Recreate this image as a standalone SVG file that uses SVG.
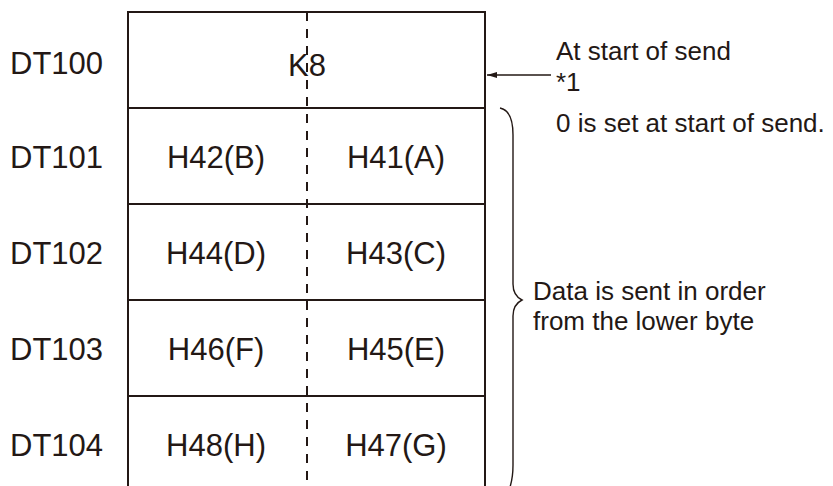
<svg xmlns="http://www.w3.org/2000/svg" width="833" height="486" viewBox="0 0 833 486">
<defs>
<style>
.t{font-family:"Liberation Sans",Arial,sans-serif;fill:#231815}
.lbl{font-size:31px}
.cell{font-size:31px;text-anchor:middle}
.note{font-size:26px}
.box{fill:#fff;stroke:#231815;stroke-width:2}
.dash{stroke:#231815;stroke-width:2;stroke-dasharray:9 8;fill:none}
.conn{stroke:#231815;stroke-width:1.4;fill:none}
</style>
<marker id="ah" viewBox="0 0 10 6" refX="10" refY="3" markerWidth="10" markerHeight="6" markerUnits="userSpaceOnUse" orient="auto">
<path d="M0,0 L10,3 L0,6 Z" fill="#231815"/>
</marker>
</defs>
<rect width="833" height="486" fill="#fff"/>
<g id="dt100">
<rect class="box" x="128" y="12" width="357" height="96"/>
<text class="t lbl" x="10" y="74">DT100</text>
<text class="t cell" x="307" y="76">K8</text>
</g>
<g id="dt101">
<rect class="box" x="128" y="108" width="357" height="96"/>
<text class="t lbl" x="10" y="168">DT101</text>
<text class="t cell" x="216" y="168">H42(B)</text>
<text class="t cell" x="396" y="168">H41(A)</text>
</g>
<g id="dt102">
<rect class="box" x="128" y="204" width="357" height="96"/>
<text class="t lbl" x="10" y="264">DT102</text>
<text class="t cell" x="216" y="264">H44(D)</text>
<text class="t cell" x="396" y="264">H43(C)</text>
</g>
<g id="dt103">
<rect class="box" x="128" y="300" width="357" height="96"/>
<text class="t lbl" x="10" y="360">DT103</text>
<text class="t cell" x="216" y="360">H46(F)</text>
<text class="t cell" x="396" y="360">H45(E)</text>
</g>
<g id="dt104">
<rect class="box" x="128" y="396" width="357" height="100"/>
<text class="t lbl" x="10" y="456">DT104</text>
<text class="t cell" x="216" y="456">H48(H)</text>
<text class="t cell" x="396" y="456">H47(G)</text>
</g>
<g id="notes">
<text class="t note" x="556" y="60">At start of send</text>
<text class="t note" x="556" y="91">*1</text>
<text class="t note" x="556" y="132">0 is set at start of send.</text>
<text class="t note" x="533" y="300">Data is sent in order</text>
<text class="t note" x="533" y="330">from the lower byte</text>
</g>
<g id="connectors">
<line class="dash" x1="307" y1="12" x2="307" y2="486"/>
<line class="conn" x1="551" y1="75" x2="487" y2="75" marker-end="url(#ah)"/>
<path class="conn" d="M500,108 C510,110 513,120 513,135 L513,284 C513,292 516,297 522,300 C516,303 513,308 513,316 L513,465 C513,475 512,482 509,490"/>
</g>
</svg>
